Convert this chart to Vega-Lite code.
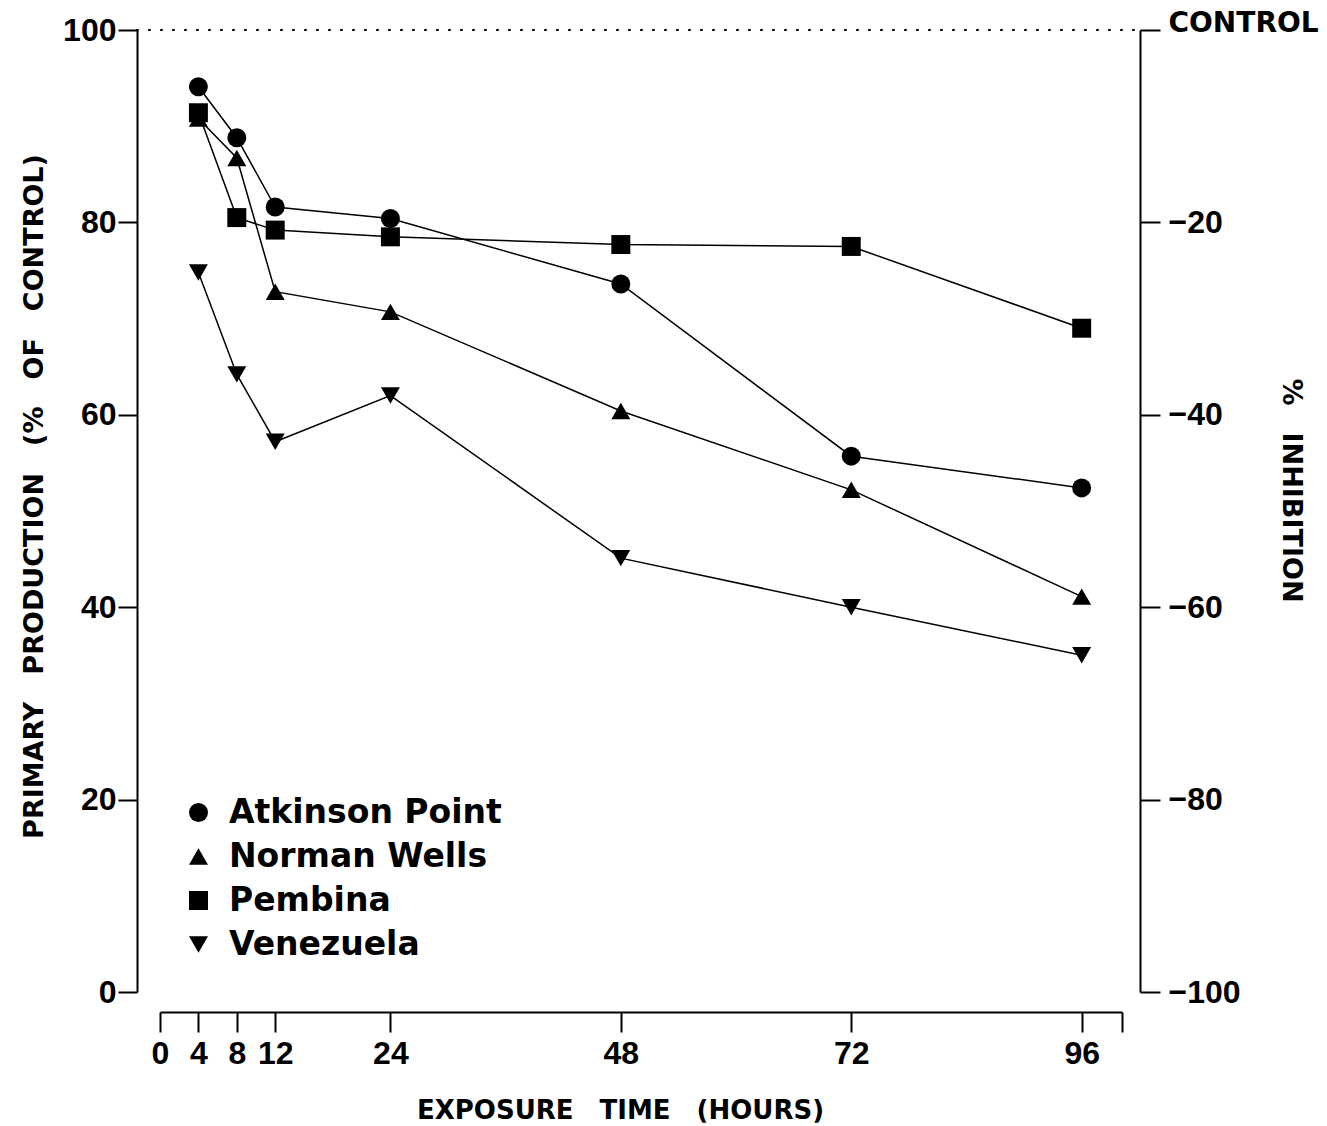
{
  "$schema": "https://vega.github.io/schema/vega-lite/v6.json",
  "width": 962,
  "height": 962,
  "autosize": {"type": "none"},
  "padding": {"left": 160, "top": 30, "right": 205, "bottom": 134},
  "background": "white",
  "config": {
    "view": {"stroke": null},
    "axis": {
      "grid": false,
      "domainColor": "black",
      "domainWidth": 2,
      "tickColor": "black",
      "tickWidth": 2,
      "labelColor": "black",
      "titleColor": "black",
      "labelFont": "Liberation Sans",
      "labelFontWeight": "bold",
      "labelFontSize": 32,
      "titleFont": "DejaVu Sans",
      "titleFontWeight": "bold",
      "titleFontSize": 26
    }
  },
  "data": {
    "values": [
      {"site": "Atkinson Point", "hours": 4, "production": 94.1},
      {"site": "Atkinson Point", "hours": 8, "production": 88.8},
      {"site": "Atkinson Point", "hours": 12, "production": 81.6},
      {"site": "Atkinson Point", "hours": 24, "production": 80.4},
      {"site": "Atkinson Point", "hours": 48, "production": 73.6},
      {"site": "Atkinson Point", "hours": 72, "production": 55.7},
      {"site": "Atkinson Point", "hours": 96, "production": 52.4},
      {"site": "Norman Wells", "hours": 4, "production": 90.8},
      {"site": "Norman Wells", "hours": 8, "production": 86.7},
      {"site": "Norman Wells", "hours": 12, "production": 72.8},
      {"site": "Norman Wells", "hours": 24, "production": 70.7},
      {"site": "Norman Wells", "hours": 48, "production": 60.4},
      {"site": "Norman Wells", "hours": 72, "production": 52.2},
      {"site": "Norman Wells", "hours": 96, "production": 41.1},
      {"site": "Pembina", "hours": 4, "production": 91.4},
      {"site": "Pembina", "hours": 8, "production": 80.5},
      {"site": "Pembina", "hours": 12, "production": 79.2},
      {"site": "Pembina", "hours": 24, "production": 78.5},
      {"site": "Pembina", "hours": 48, "production": 77.7},
      {"site": "Pembina", "hours": 72, "production": 77.5},
      {"site": "Pembina", "hours": 96, "production": 69.0},
      {"site": "Venezuela", "hours": 4, "production": 74.8},
      {"site": "Venezuela", "hours": 8, "production": 64.2},
      {"site": "Venezuela", "hours": 12, "production": 57.2},
      {"site": "Venezuela", "hours": 24, "production": 62.0},
      {"site": "Venezuela", "hours": 48, "production": 45.1},
      {"site": "Venezuela", "hours": 72, "production": 40.0},
      {"site": "Venezuela", "hours": 96, "production": 35.0}
    ]
  },
  "layer": [
    {
      "mark": {"type": "line", "color": "black", "strokeWidth": 1.5},
      "encoding": {
        "x": {
          "field": "hours",
          "type": "quantitative",
          "scale": {"domain": [0, 100.2], "nice": false, "zero": false},
          "axis": {
            "values": [0, 4, 8, 12, 24, 48, 72, 96, 100.2],
            "labelExpr": "datum.value > 99 ? '' : datum.label",
            "offset": 20,
            "tickSize": 20,
            "labelPadding": 6,
            "labelFlush": false,
            "labelOverlap": false,
            "title": "EXPOSURE\u2003TIME\u2003(HOURS)",
            "titlePadding": 28,
            "titleX": 460
          }
        },
        "y": {
          "field": "production",
          "type": "quantitative",
          "scale": {"domain": [0, 100], "nice": false},
          "axis": {
            "orient": "left",
            "values": [0, 20, 40, 60, 80, 100],
            "offset": 23,
            "tickSize": 19,
            "labelPadding": 2,
            "title": "PRIMARY\u2003PRODUCTION\u2003(%\u2003OF\u2003CONTROL)",
            "titleFontSize": 27,
            "titlePadding": 14,
            "titleY": 466
          }
        },
        "detail": {"field": "site", "type": "nominal"}
      }
    },
    {
      "data": {"values": [{"control": 100, "from": -2.4, "to": 102}]},
      "mark": {"type": "rule", "color": "black", "strokeWidth": 2.2, "strokeDash": [1, 11], "strokeCap": "round"},
      "encoding": {
        "x": {
          "field": "from",
          "type": "quantitative",
          "scale": {"domain": [0, 100.2], "nice": false, "zero": false},
          "axis": {
            "values": [0, 4, 8, 12, 24, 48, 72, 96, 100.2],
            "labelExpr": "datum.value > 99 ? '' : datum.label",
            "offset": 20,
            "tickSize": 20,
            "labelPadding": 6,
            "labelFlush": false,
            "labelOverlap": false,
            "title": "EXPOSURE\u2003TIME\u2003(HOURS)",
            "titlePadding": 28,
            "titleX": 460
          }
        },
        "x2": {"field": "to"},
        "y": {"field": "control", "type": "quantitative", "scale": {"domain": [0, 100], "nice": false}, "axis": null}
      }
    },
    {
      "mark": {"type": "point", "filled": true, "color": "black", "opacity": 1, "size": 360},
      "encoding": {
        "x": {
          "field": "hours",
          "type": "quantitative",
          "scale": {"domain": [0, 100.2], "nice": false, "zero": false},
          "axis": {
            "values": [0, 4, 8, 12, 24, 48, 72, 96, 100.2],
            "labelExpr": "datum.value > 99 ? '' : datum.label",
            "offset": 20,
            "tickSize": 20,
            "labelPadding": 6,
            "labelFlush": false,
            "labelOverlap": false,
            "title": "EXPOSURE\u2003TIME\u2003(HOURS)",
            "titlePadding": 28,
            "titleX": 460
          }
        },
        "y": {
          "field": "production",
          "type": "quantitative",
          "scale": {"domain": [0, 100], "nice": false},
          "axis": {
            "orient": "right",
            "values": [0, 20, 40, 60, 80, 100],
            "offset": 18,
            "tickSize": 20,
            "labelPadding": 8,
            "labelExpr": "datum.value == 100 ? 'CONTROL' : '\u2212' + (100 - datum.value)",
            "labelFont": {"condition": {"test": "datum.value == 100", "value": "DejaVu Sans"}, "value": "Liberation Sans"},
            "labelFontSize": {"condition": {"test": "datum.value == 100", "value": 28}, "value": 32},
            "labelOffset": {"condition": {"test": "datum.value == 100", "value": -7}, "value": 0},
            "title": "%\u2003INHIBITION",
            "titleFontSize": 27,
            "titleX": 150,
            "titleY": 460,
            "titleAlign": "center",
            "titleBaseline": "middle",
            "titleAngle": 90
          }
        },
        "shape": {
          "field": "site",
          "type": "nominal",
          "scale": {
            "domain": ["Atkinson Point", "Norman Wells", "Pembina", "Venezuela"],
            "range": ["circle", "triangle-up", "square", "triangle-down"]
          },
          "legend": {
            "orient": "none",
            "legendX": 22,
            "legendY": 766,
            "title": null,
            "labelFont": "DejaVu Sans",
            "labelFontWeight": "bold",
            "labelFontSize": 33,
            "labelColor": "black",
            "labelLimit": 500,
            "labelOffset": 14,
            "rowPadding": 10,
            "symbolSize": 360,
            "symbolFillColor": "black",
            "symbolStrokeColor": "black",
            "symbolOpacity": 1
          }
        }
      }
    }
  ],
  "resolve": {"axis": {"y": "independent"}}
}
